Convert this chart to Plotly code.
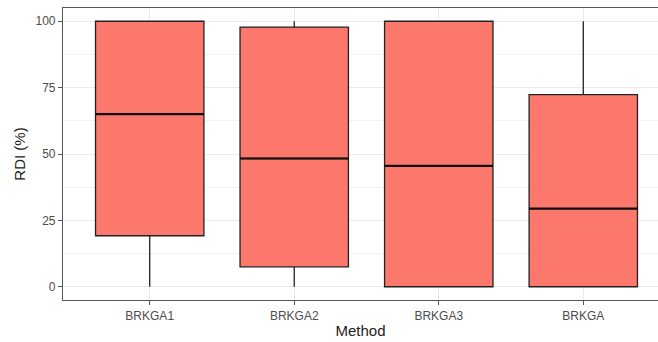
import plotly.graph_objects as go

# Summary statistics of RDI (%) per method
methods = ["BRKGA1", "BRKGA2", "BRKGA3", "BRKGA"]
lower = [0, 0, 0, 0]
q1 = [19.2, 7.5, 0, 0]
median = [65.0, 48.3, 45.5, 29.4]
q3 = [100, 97.8, 100, 72.4]
upper = [100, 100, 100, 100]

pos = list(range(1, len(methods) + 1))
box_w = 0.75
fill = "#FC786D"
edge = "#222222"

fig = go.Figure()
fig.add_trace(go.Box(
    x=pos, q1=q1, median=median, q3=q3,
    lowerfence=lower, upperfence=upper,
    width=box_w, whiskerwidth=0,
    fillcolor=fill, line=dict(color=edge, width=1.3),
    boxpoints=False, hoverinfo="skip", showlegend=False,
))

# Thicker median bars drawn over each box
mx, my = [], []
for p, m in zip(pos, median):
    mx += [p - box_w / 2, p + box_w / 2, None]
    my += [m, m, None]
fig.add_trace(go.Scatter(x=mx, y=my, mode="lines",
                         line=dict(color="#111111", width=2.2),
                         hoverinfo="skip", showlegend=False))

font = "Liberation Sans, Arial, sans-serif"
fig.update_layout(
    width=658, height=342,
    margin=dict(l=63, r=0, t=8, b=42),
    paper_bgcolor="white", plot_bgcolor="white",
    font=dict(family=font, color="#4D4D4D", size=12),
    xaxis=dict(
        range=[0.4, 4.517], tickmode="array", tickvals=pos, ticktext=methods,
        showgrid=True, gridcolor="#EBEBEB", gridwidth=1,
        showline=True, linecolor="#555555", linewidth=1.2, mirror=True,
        ticks="outside", ticklen=4, tickcolor="#555555", tickwidth=1,
        tickfont=dict(size=12, color="#4D4D4D"),
        title=dict(text="Method", font=dict(size=15, color="#222222"), standoff=3),
        zeroline=False,
    ),
    yaxis=dict(
        range=[-5, 105], tickvals=[0, 25, 50, 75, 100],
        showgrid=True, gridcolor="#EBEBEB", gridwidth=1,
        minor=dict(tickvals=[12.5, 37.5, 62.5, 87.5], showgrid=True,
                   gridcolor="#F3F3F3", gridwidth=0.6, ticks=""),
        showline=True, linecolor="#555555", linewidth=1.2,
        ticks="outside", ticklen=4, tickcolor="#555555", tickwidth=1,
        tickfont=dict(size=12, color="#4D4D4D"),
        title=dict(text="RDI (%)", font=dict(size=15, color="#222222"), standoff=6),
        zeroline=False,
    ),
)

fig.write_html("out.html")
